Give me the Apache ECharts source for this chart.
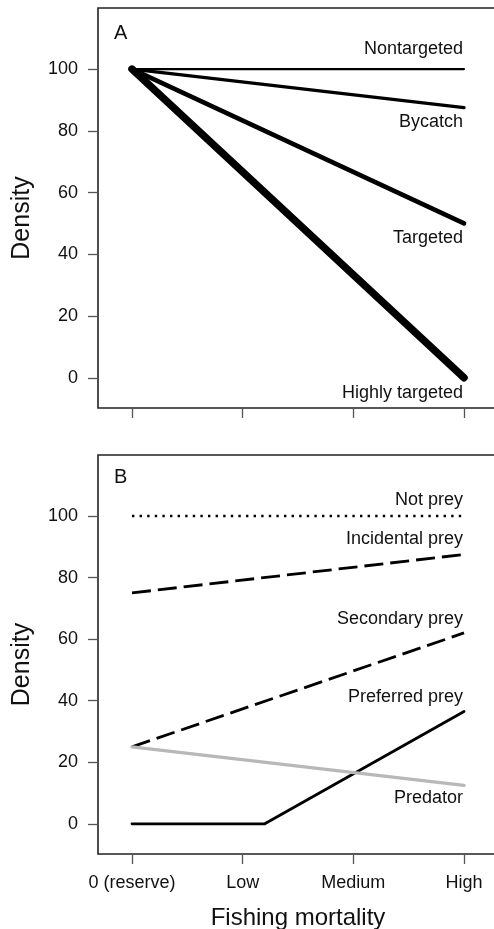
<!DOCTYPE html>
<html>
<head>
<meta charset="utf-8">
<script src="https://cdn.jsdelivr.net/npm/echarts@6/dist/echarts.min.js"></script>
<style>
html,body{margin:0;padding:0;background:#fff;}
#chart{width:494px;height:929px;}
</style>
</head>
<body>
<div id="chart"></div>
<script>
// ---- data ----
const xLabels = ['0 (reserve)', 'Low', 'Medium', 'High'];
const xTicks = [0, 1, 2, 3];
const yTicks = [0, 20, 40, 60, 80, 100];

// Panel A
const xA = [0, 3];
const nontargeted = [100, 100];
const bycatch = [100, 87.5];
const targeted = [100, 50];
const highlyTargeted = [100, 0];

// Panel B
const xB = [0, 3];
const notPrey = [100, 100];
const incidentalPrey = [75, 87.5];
const secondaryPrey = [25, 62];
const xPreferred = [0, 1.2, 3];
const preferredPrey = [0, 0, 36.5];
const predator = [25, 12.5];

// ---- chart ----
const FONT = "'Liberation Sans', Arial, Helvetica, sans-serif";
const pairs = (xs, ys) => xs.map((x, i) => [x, ys[i]]);

function xAxisCfg(gridIndex, showLabels) {
  return {
    type: 'value', gridIndex: gridIndex, min: -0.307, max: 3.307,
    splitLine: {show: false},
    axisLine: {show: false, onZero: false},
    axisTick: {show: true, inside: false, length: 10, customValues: xTicks, lineStyle: {color: '#555', width: 1.3}},
    axisLabel: {show: showLabels, customValues: xTicks, margin: 20, fontSize: 18, color: '#111', fontFamily: FONT,
      formatter: v => xLabels[Math.round(v)]},
    name: showLabels ? 'Fishing mortality' : '',
    nameLocation: 'middle', nameGap: 52,
    nameTextStyle: {fontSize: 24, color: '#111', fontFamily: FONT}
  };
}
function yAxisCfg(gridIndex) {
  return {
    type: 'value', gridIndex: gridIndex, min: -9.8, max: 119.8,
    splitLine: {show: false},
    axisLine: {show: false, onZero: false},
    axisTick: {show: true, inside: false, length: 10, customValues: yTicks, lineStyle: {color: '#555', width: 1.3}},
    axisLabel: {show: true, customValues: yTicks, margin: 20, fontSize: 18, color: '#111', fontFamily: FONT},
    name: 'Density', nameLocation: 'middle', nameGap: 63, nameRotate: 90,
    nameTextStyle: {fontSize: 25, color: '#111', fontFamily: FONT, padding: [0, 20, 0, 0]}
  };
}
function lineSeries(name, xi, yi, data, width, color, type, dy) {
  return {
    name: name, type: 'line', xAxisIndex: xi, yAxisIndex: yi,
    data: data, showSymbol: false, symbol: 'none',
    lineStyle: {color: color, width: width, type: type, cap: type === 'solid' ? 'round' : 'butt', join: 'round'},
    endLabel: {show: true, formatter: '{a}', align: 'right', verticalAlign: 'middle', distance: 0,
      offset: [-1, dy], fontSize: 18, color: '#111', fontFamily: FONT},
    silent: true, z: 3
  };
}

const chart = echarts.init(document.getElementById('chart'), null, {renderer: 'canvas'});
chart.setOption({
  animation: false,
  backgroundColor: '#fff',
  title: [
    {text: 'A', left: 114, top: 23, padding: 0, textStyle: {fontSize: 20, fontWeight: 'normal', color: '#111', fontFamily: FONT}},
    {text: 'B', left: 114, top: 467, padding: 0, textStyle: {fontSize: 20, fontWeight: 'normal', color: '#111', fontFamily: FONT}}
  ],
  grid: [
    {left: 98, top: 8, width: 400, height: 400, show: true, borderColor: '#222', borderWidth: 1.6,
      backgroundColor: 'transparent', outerBoundsMode: 'none', containLabel: false},
    {left: 98, top: 455, width: 400, height: 399, show: true, borderColor: '#222', borderWidth: 1.6,
      backgroundColor: 'transparent', outerBoundsMode: 'none', containLabel: false}
  ],
  xAxis: [xAxisCfg(0, false), xAxisCfg(1, true)],
  yAxis: [yAxisCfg(0), yAxisCfg(1)],
  series: [
    lineSeries('Nontargeted', 0, 0, pairs(xA, nontargeted), 2.2, '#000', 'solid', -20),
    lineSeries('Bycatch', 0, 0, pairs(xA, bycatch), 3.2, '#000', 'solid', 14),
    lineSeries('Targeted', 0, 0, pairs(xA, targeted), 4.6, '#000', 'solid', 15),
    lineSeries('Highly targeted', 0, 0, pairs(xA, highlyTargeted), 7.5, '#000', 'solid', 15),

    lineSeries('Not prey', 1, 1, pairs(xB, notPrey), 2.6, '#000', [2.4, 5.2], -16),
    lineSeries('Incidental prey', 1, 1, pairs(xB, incidentalPrey), 2.8, '#000', [19, 7], -15),
    lineSeries('Secondary prey', 1, 1, pairs(xB, secondaryPrey), 2.8, '#000', [19, 7], -14),
    lineSeries('Preferred prey', 1, 1, pairs(xPreferred, preferredPrey), 2.8, '#000', 'solid', -14),
    lineSeries('Predator', 1, 1, pairs(xB, predator), 3.4, '#b8b8b8', 'solid', 13)
  ]
});
</script>
</body>
</html>
